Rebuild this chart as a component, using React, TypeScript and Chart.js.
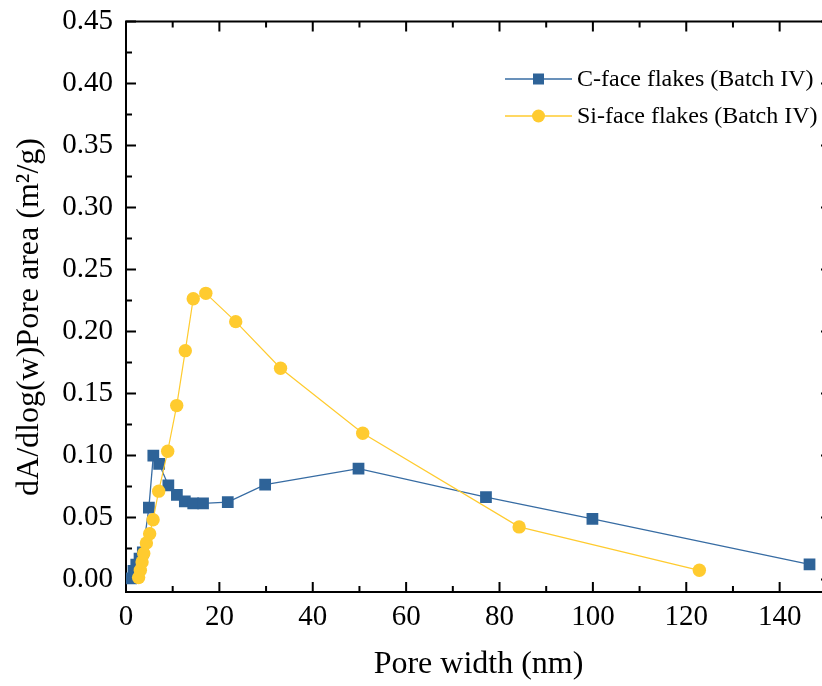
import React, { useEffect, useRef } from "react";
import { Chart, registerables } from "chart.js";

Chart.register(...registerables);

// ---- data ----
const cFaceX = [1.1, 1.6, 2.2, 2.9, 3.6, 4.9, 5.85, 7.1, 9.07, 10.9, 12.6, 14.4, 16.5, 21.8, 29.8, 49.8, 77.1, 99.9, 146.4];
const cFaceY = [0.001, 0.007, 0.012, 0.017, 0.022, 0.058, 0.1, 0.0934, 0.0759, 0.0684, 0.063, 0.0615, 0.0615, 0.0625, 0.0765, 0.0894, 0.0665, 0.049, 0.0123];
const siFaceX = [2.7, 3.07, 3.44, 3.8, 4.36, 5.07, 5.8, 7.0, 8.93, 10.86, 12.7, 14.4, 17.1, 23.5, 33.1, 50.7, 84.2, 122.8];
const siFaceY = [0.0016, 0.0075, 0.0142, 0.021, 0.0295, 0.037, 0.0483, 0.0713, 0.1035, 0.1403, 0.1846, 0.2265, 0.2308, 0.208, 0.1704, 0.118, 0.0425, 0.0075];

const seriesNames = ["C-face flakes (Batch IV)", "Si-face flakes (Batch IV)"];
const xTitle = "Pore width (nm)";
const yTitle = "dA/dlog(w)Pore area (m²/g)";
const xTickLabels = [0, 20, 40, 60, 80, 100, 120, 140];
const xMinorTicks = [10, 30, 50, 70, 90, 110, 130, 150];
const yTickLabels = [0, 0.05, 0.1, 0.15, 0.2, 0.25, 0.3, 0.35, 0.4, 0.45];
const yMinorTicks = [0.025, 0.075, 0.125, 0.175, 0.225, 0.275, 0.325, 0.375, 0.425];

const BLUE = "rgb(46,99,152)";
const BLUE_LINE = "rgb(55,108,163)";
const YELLOW = "rgb(255,203,47)";
const FONT = "'Liberation Serif', 'Times New Roman', serif";

const toPts = (xs: number[], ys: number[]) => xs.map((x, i) => ({ x, y: ys[i] }));

const axesPlugin = {
  id: "axesBox",
  beforeDatasetsDraw(chart: any) {
    const { ctx, scales } = chart;
    const xs = scales.x;
    const ys = scales.y;
    const left = xs.getPixelForValue(xs.min);
    const right = xs.getPixelForValue(xs.max);
    const top = ys.getPixelForValue(ys.max);
    const bottom = ys.getPixelForValue(ys.min);
    ctx.save();
    ctx.strokeStyle = "#000";
    ctx.lineWidth = 2;
    ctx.beginPath();
    ctx.rect(left, top, right - left, bottom - top);
    ctx.stroke();
    const MAJ = 10;
    const MIN = 6;
    ctx.beginPath();
    const xt = (v: number, len: number) => {
      const p = xs.getPixelForValue(v);
      ctx.moveTo(p, bottom);
      ctx.lineTo(p, bottom - len);
      ctx.moveTo(p, top);
      ctx.lineTo(p, top + len);
    };
    const yt = (v: number, len: number) => {
      const p = ys.getPixelForValue(v);
      ctx.moveTo(left, p);
      ctx.lineTo(left + len, p);
      ctx.moveTo(right, p);
      ctx.lineTo(right - len, p);
    };
    xTickLabels.forEach((v) => xt(v, MAJ));
    xMinorTicks.forEach((v) => xt(v, MIN));
    yTickLabels.forEach((v) => yt(v, MAJ));
    yMinorTicks.forEach((v) => yt(v, MIN));
    ctx.stroke();

    // y axis title
    ctx.fillStyle = "#000";
    ctx.font = `32px ${FONT}`;
    ctx.textAlign = "center";
    ctx.textBaseline = "middle";
    ctx.translate(30, 317);
    ctx.rotate(-Math.PI / 2);
    ctx.fillText(yTitle, 0, 0);
    ctx.restore();
  },
};

const legendPlugin = {
  id: "customLegend",
  afterDraw(chart: any) {
    const { ctx } = chart;
    const rows = [
      { name: seriesNames[0], color: BLUE, line: BLUE_LINE, shape: "rect", y: 79 },
      { name: seriesNames[1], color: YELLOW, line: YELLOW, shape: "circle", y: 116 },
    ];
    ctx.save();
    rows.forEach((r) => {
      ctx.strokeStyle = r.line;
      ctx.lineWidth = 1.3;
      ctx.beginPath();
      ctx.moveTo(505, r.y);
      ctx.lineTo(572, r.y);
      ctx.stroke();
      ctx.fillStyle = r.color;
      if (r.shape === "rect") {
        ctx.fillRect(538.5 - 5.5, r.y - 5.5, 11, 11);
      } else {
        ctx.beginPath();
        ctx.arc(538.5, r.y, 6.5, 0, Math.PI * 2);
        ctx.fill();
      }
      ctx.fillStyle = "#000";
      ctx.font = `24px ${FONT}`;
      ctx.textAlign = "left";
      ctx.textBaseline = "middle";
      ctx.fillText(r.name, 577, r.y + 1);
    });
    ctx.restore();
  },
};

export default function App() {
  const ref = useRef<HTMLCanvasElement | null>(null);
  useEffect(() => {
    if (!ref.current) return;
    const chart = new Chart(ref.current, {
      type: "scatter",
      data: {
        datasets: [
          {
            label: seriesNames[0],
            data: toPts(cFaceX, cFaceY),
            showLine: true,
            borderColor: BLUE_LINE,
            backgroundColor: BLUE,
            borderWidth: 1.3,
            pointStyle: "rect",
            pointRadius: 8.3,
            pointBorderWidth: 0,
            pointBackgroundColor: BLUE,
            order: 1,
          },
          {
            label: seriesNames[1],
            data: toPts(siFaceX, siFaceY),
            showLine: true,
            borderColor: YELLOW,
            backgroundColor: YELLOW,
            borderWidth: 1.2,
            pointStyle: "circle",
            pointRadius: 6.7,
            pointBorderWidth: 0,
            pointBackgroundColor: YELLOW,
            order: 0,
          },
        ],
      },
      options: {
        responsive: false,
        animation: false,
        devicePixelRatio: 1,
        layout: { padding: { top: 21.5, right: 19, left: 0, bottom: 0 } },
        plugins: { legend: { display: false }, tooltip: { enabled: false } },
        scales: {
          x: {
            type: "linear",
            min: 0,
            max: 151,
            grid: { display: false, drawTicks: false },
            border: { display: false },
            afterBuildTicks: (s: any) => {
              s.ticks = xTickLabels.map((v) => ({ value: v }));
            },
            afterFit: (s: any) => {
              s.height = 94;
              s.paddingLeft = 0;
              s.paddingRight = 0;
            },
            ticks: {
              autoSkip: false,
              maxRotation: 0,
              padding: 8,
              color: "#000",
              font: { family: FONT, size: 29 },
              callback: (v: any) => String(v),
            },
            title: {
              display: true,
              text: xTitle,
              color: "#000",
              font: { family: FONT, size: 32 },
              padding: { top: 0, bottom: 2 },
            },
          },
          y: {
            type: "linear",
            min: -0.01,
            max: 0.45,
            grid: { display: false, drawTicks: false },
            border: { display: false },
            afterBuildTicks: (s: any) => {
              s.ticks = yTickLabels.map((v) => ({ value: v }));
            },
            afterFit: (s: any) => {
              s.width = 126;
              s.paddingTop = 0;
              s.paddingBottom = 0;
            },
            ticks: {
              autoSkip: false,
              padding: 13,
              color: "#000",
              font: { family: FONT, size: 29 },
              callback: (v: any) => Number(v).toFixed(2),
            },
            title: { display: false },
          },
        },
      },
      plugins: [axesPlugin, legendPlugin],
    } as any);
    return () => chart.destroy();
  }, []);
  return (
    <div style={{ position: "fixed", left: 0, top: 0, width: 822, height: 686, overflow: "hidden", background: "#fff" }}>
      <canvas ref={ref} width={850} height={686} style={{ display: "block" }} />
    </div>
  );
}
